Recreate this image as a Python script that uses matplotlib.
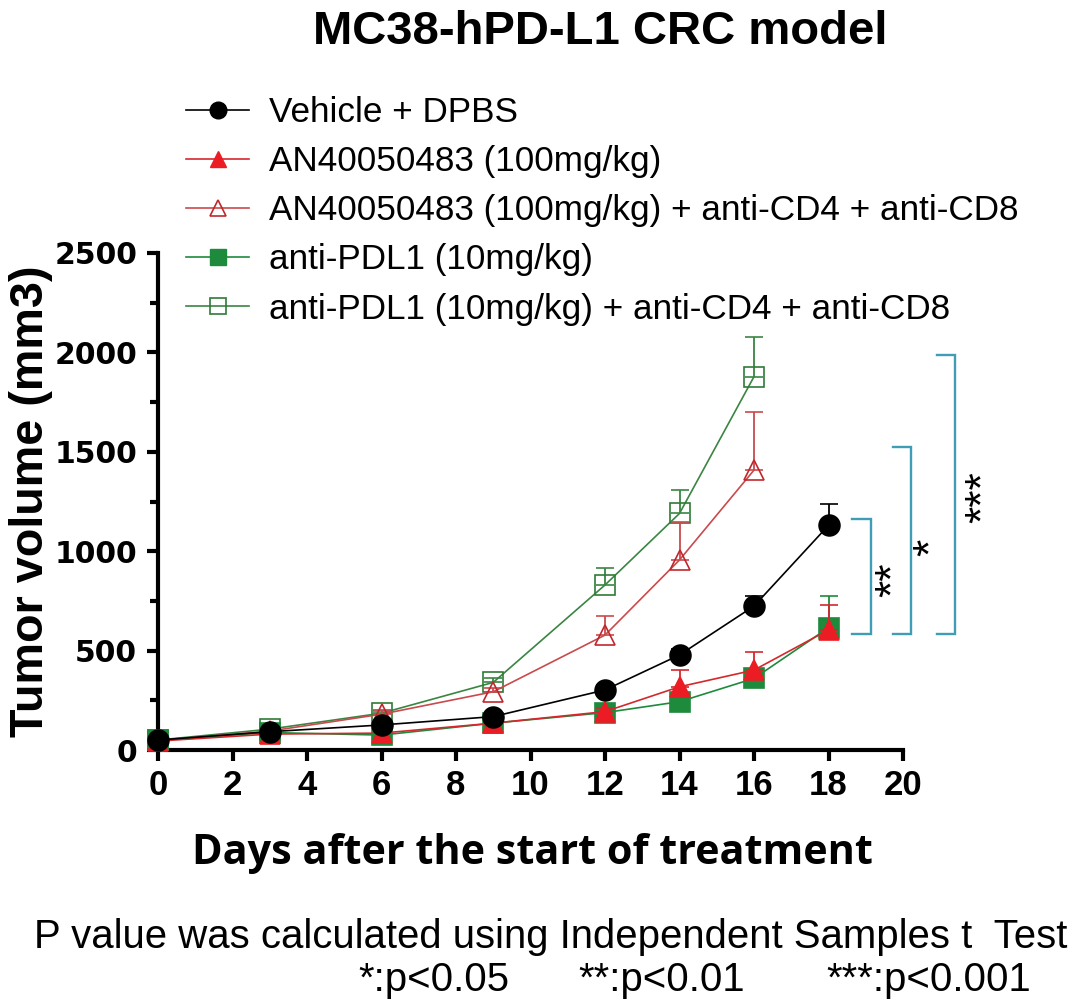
import matplotlib
matplotlib.use("Agg")
import matplotlib.pyplot as plt
import numpy as np
from matplotlib.lines import Line2D
from matplotlib.ticker import MultipleLocator
from matplotlib import font_manager

# ---------------- data ----------------
days = [0, 3, 6, 9, 12, 14, 16, 18]
days_cd = [0, 3, 6, 9, 12, 14, 16]

vehicle = [50, 92, 126, 168, 302, 478, 724, 1130]
vehicle_err = [5, 10, 15, 20, 25, 30, 52, 106]

an = [45, 80, 85, 135, 193, 318, 402, 604]
an_err = [5, 8, 10, 15, 20, 84, 91, 125]

an_cd = [48, 95, 180, 293, 578, 956, 1408]
an_cd_err = [5, 10, 15, 20, 98, 190, 294]

pdl1 = [50, 88, 75, 135, 188, 243, 360, 615]
pdl1_err = [5, 8, 10, 12, 15, 20, 40, 161]

pdl1_cd = [50, 105, 185, 340, 830, 1190, 1878]
pdl1_cd_err = [5, 10, 15, 20, 87, 118, 198]

labels = [
    "Vehicle + DPBS",
    "AN40050483 (100mg/kg)",
    "AN40050483 (100mg/kg) + anti-CD4 + anti-CD8",
    "anti-PDL1 (10mg/kg)",
    "anti-PDL1 (10mg/kg) + anti-CD4 + anti-CD8",
]

x_ticks = [0, 2, 4, 6, 8, 10, 12, 14, 16, 18, 20]
y_ticks = [0, 500, 1000, 1500, 2000, 2500]

# significance brackets: (x_left, x_right, y_low, y_high, star_x, star_y, label)
sig = [
    (18.62, 19.14, 583, 1160, 19.46, 855, "**"),
    (19.72, 20.21, 583, 1523, 20.48, 1021, "*"),
    (20.90, 21.40, 583, 1987, 21.88, 1273, "***"),
]

# ---------------- fonts ----------------
names = {f.name for f in font_manager.fontManager.ttflist}
SANS = "Liberation Sans" if "Liberation Sans" in names else "DejaVu Sans"
NARROW = "Liberation Sans Narrow" if "Liberation Sans Narrow" in names else SANS
XLAB = "Open Sans" if "Open Sans" in names else SANS

W, H = 1071, 1008
fig = plt.figure(figsize=(W / 100, H / 100), dpi=100)
ax = fig.add_axes([158 / W, 1 - 750 / H, (903 - 158) / W, (750 - 253) / H])

BLACK = "#000000"
RED = "#ec1c24"
RED_L = "#d4282c"
RED_O = "#c0272d"
RED_OL = "#c94a4d"
GREEN = "#1e8a3c"
GREEN_O = "#2f7a35"
GREEN_OL = "#3a8542"


def series(x, y, err, mcolor, lcolor, marker, filled, ms, z):
    y = np.asarray(y, float)
    err = np.asarray(err, float)
    ax.errorbar(x, y, yerr=[np.zeros_like(err), err], color=lcolor,
                ecolor=lcolor, marker=marker,
                mfc=mcolor if filled else "none", mec=mcolor,
                mew=1.2, ms=ms, lw=1.2, elinewidth=1.3, capsize=6.8,
                capthick=1.3, zorder=z, clip_on=False)


series(days_cd, pdl1_cd, pdl1_cd_err, GREEN_O, GREEN_OL, "s", False, 14, 3)
series(days_cd, an_cd, an_cd_err, RED_O, RED_OL, "^", False, 15, 4)
series(days, pdl1, pdl1_err, GREEN, GREEN, "s", True, 14, 5)
series(days, an, an_err, RED, RED_L, "^", True, 14, 6)
series(days, vehicle, vehicle_err, BLACK, BLACK, "o", True, 15, 7)

# axes styling
ax.set_xlim(0, 20)
ax.set_ylim(0, 2500)
for s in ["top", "right"]:
    ax.spines[s].set_visible(False)
for s in ["left", "bottom"]:
    ax.spines[s].set_linewidth(3)
ax.set_xticks(x_ticks)
ax.set_yticks(y_ticks)
ax.yaxis.set_minor_locator(MultipleLocator(250))
ax.tick_params(which="major", direction="out", length=8, width=3)
ax.tick_params(which="minor", direction="out", length=6, width=3)
ax.tick_params(axis="x", which="minor", length=0)
ax.tick_params(axis="y", which="major", pad=7, labelsize=21.5,
               labelfontfamily="DejaVu Sans")
ax.tick_params(axis="x", which="major", pad=6, labelsize=25,
               labelfontfamily=NARROW)
for t in ax.get_yticklabels() + ax.get_xticklabels():
    t.set_fontweight("bold")

# brackets and stars
TEAL = "#3f9db5"
for xl, xr, yl, yh, sx, sy, lab in sig:
    ax.plot([xl, xr, xr, xl], [yh, yh, yl, yl], color=TEAL, lw=1.7,
            clip_on=False, zorder=8, solid_joinstyle="miter")
    ax.text(sx + 0.3, sy, lab, rotation=90, ha="center", va="center",
            fontsize=32, fontfamily=SANS, clip_on=False)

# legend
handles = [
    Line2D([], [], color=BLACK, marker="o", mfc=BLACK, mec=BLACK, ms=15, lw=1.2),
    Line2D([], [], color=RED_L, marker="^", mfc=RED, mec=RED, ms=14, lw=1.2),
    Line2D([], [], color=RED_OL, marker="^", mfc="none", mec=RED_O, ms=15, mew=1.2, lw=1.2),
    Line2D([], [], color=GREEN, marker="s", mfc=GREEN, mec=GREEN, ms=14, lw=1.2),
    Line2D([], [], color=GREEN_OL, marker="s", mfc="none", mec=GREEN_O, ms=14, mew=1.2, lw=1.2),
]
fig.legend(handles, labels, loc="upper left",
           bbox_to_anchor=(186 / W, 1 - 96 / H),
           frameon=False, borderpad=0, borderaxespad=0,
           prop={"family": SANS, "size": 25.3}, handlelength=1.8,
           handletextpad=0.55, labelspacing=0.46, markerscale=0.8)

# labels and texts
renderer = fig.canvas.get_renderer()


def fit(t, width=None, height=None):
    bb = t.get_window_extent(renderer=renderer)
    if width is not None:
        t.set_fontsize(t.get_fontsize() * width / bb.width)
    elif height is not None:
        t.set_fontsize(t.get_fontsize() * height / bb.height)


def fx(px):
    return px / W


def fy(py):
    return 1 - py / H


title = fig.text(fx(600), fy(32), "MC38-hPD-L1 CRC model", ha="center",
                 va="center", fontsize=34, fontweight="bold", fontfamily=SANS)
fit(title, width=575)

xl = fig.text(fx(532), fy(853), "Days after the start of treatment",
              ha="center", va="center", fontsize=30, fontweight="bold",
              fontfamily=XLAB)
fit(xl, width=681)

yl = fig.text(fx(31), fy(501), "Tumor volume (mm3)", rotation=90,
              ha="center", va="center", fontsize=32, fontweight="bold",
              fontfamily=SANS)
fit(yl, height=473)

b1 = fig.text(fx(551), fy(937), "P value was calculated using Independent Samples t  Test",
              ha="center", va="center", fontsize=28, fontfamily=SANS)
fit(b1, width=1033)
for xpos, txt in [(358, "*:p<0.05"), (578, "**:p<0.01"), (826, "***:p<0.001")]:
    fig.text(fx(xpos), fy(980), txt, ha="left", va="center",
             fontsize=b1.get_fontsize(), fontfamily=SANS)

fig.savefig("out.png", dpi=100, facecolor="white")
